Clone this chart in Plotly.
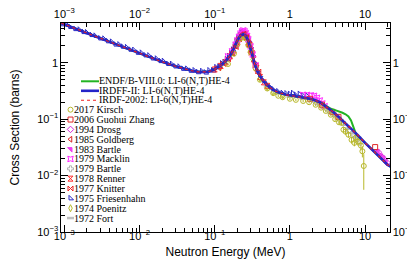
import plotly.graph_objects as go

# ---------------- data (MeV, barns) ----------------
curve_E = [0.00091, 0.001, 0.0015, 0.002, 0.003, 0.005, 0.007, 0.01, 0.015, 0.02, 0.03, 0.04,
           0.05, 0.06, 0.07, 0.08, 0.09, 0.1, 0.12, 0.14, 0.16, 0.18, 0.2, 0.22, 0.24, 0.26,
           0.28, 0.3, 0.32, 0.34, 0.37, 0.4, 0.45, 0.5, 0.55, 0.6, 0.7, 0.8, 0.9, 1.0, 1.3,
           1.6, 2.0, 2.5, 3.0, 3.5, 4.0, 4.5, 5.0, 5.5, 6.0, 6.5, 7.0, 7.5, 8.0, 10, 12, 14, 17, 20, 22]
irdff_sig = [5.05, 4.8, 3.9, 3.37, 2.73, 2.1, 1.76, 1.45, 1.19, 1.04, 0.87, 0.78,
             0.72, 0.69, 0.68, 0.69, 0.72, 0.77, 0.9, 1.07, 1.35, 1.8, 2.5, 3.05, 3.2, 3.0,
             2.4, 1.8, 1.3, 0.95, 0.7, 0.58, 0.46, 0.40, 0.36, 0.33, 0.30, 0.28, 0.27, 0.265, 0.25,
             0.24, 0.225, 0.2, 0.17, 0.145, 0.125, 0.109, 0.095, 0.084, 0.075, 0.068, 0.062, 0.057, 0.052, 0.038, 0.030, 0.024, 0.019, 0.0155, 0.0143]
irdf2002_sig = [5.05, 4.8, 3.9, 3.37, 2.73, 2.1, 1.76, 1.45, 1.19, 1.04, 0.87, 0.78,
                0.72, 0.69, 0.68, 0.69, 0.72, 0.77, 0.9, 1.07, 1.35, 1.8, 2.5, 3.05, 3.2, 3.0,
                2.4, 1.8, 1.3, 0.95, 0.7, 0.58, 0.46, 0.40, 0.36, 0.33, 0.30, 0.28, 0.27, 0.265, 0.25,
                0.24, 0.225, 0.2, 0.17, 0.145, 0.125, 0.109, 0.095, 0.084, 0.075, 0.068, 0.062, 0.057, 0.052, 0.038, 0.030, 0.024, 0.019, 0.0155, 0.0143]
endf_sig = [5.05, 4.8, 3.9, 3.37, 2.73, 2.1, 1.76, 1.45, 1.19, 1.04, 0.87, 0.78,
            0.72, 0.69, 0.68, 0.69, 0.72, 0.77, 0.9, 1.07, 1.35, 1.8, 2.5, 3.05, 3.2, 3.0,
            2.4, 1.8, 1.3, 0.95, 0.7, 0.58, 0.46, 0.40, 0.36, 0.33, 0.30, 0.28, 0.27, 0.265, 0.25,
            0.24, 0.225, 0.2, 0.17, 0.153, 0.145, 0.138, 0.13, 0.122, 0.112, 0.095, 0.07, 0.056, 0.051, 0.038, 0.030, 0.024, 0.019, 0.0155, 0.0143]

kirsch_E = [0.15, 0.18, 0.2, 0.22, 0.24, 0.26, 0.28, 0.3, 0.35, 0.4, 0.5, 0.6, 0.7, 0.8, 1.0, 1.2, 1.5, 1.8,
            2.2, 2.6, 3.0, 3.5, 4.0, 4.5, 4.85, 5.15, 5.5, 6.0, 6.6, 7.2, 7.5, 8.0, 8.8, 9.2, 9.6]
kirsch_sig = [0.95, 1.45, 2.1, 2.7, 2.95, 2.7, 2.05, 1.55, 0.8, 0.5, 0.35, 0.29, 0.26, 0.245, 0.23, 0.22, 0.21, 0.2,
              0.18, 0.16, 0.14, 0.12, 0.1, 0.088, 0.086, 0.065, 0.06, 0.053, 0.043, 0.038, 0.047, 0.04, 0.034, 0.027, 0.0148]
kirsch_err = [0.05, 0.07, 0.1, 0.13, 0.14, 0.13, 0.1, 0.08, 0.04, 0.025, 0.018, 0.015, 0.013, 0.012, 0.012, 0.011, 0.011, 0.01,
              0.01, 0.009, 0.008, 0.007, 0.007, 0.007, 0.008, 0.007, 0.007, 0.006, 0.006, 0.005, 0.006, 0.006, 0.006, 0.006, 0.0092]

zhang_E = [1.85, 2.67, 3.67, 4.42, 13.6]
zhang_sig = [0.23, 0.18, 0.135, 0.11, 0.032]

drosg_E = [15.0, 17.0, 19.5]
drosg_sig = [0.026, 0.021, 0.017]

goldberg_E = [0.17, 0.19, 0.21, 0.23, 0.25, 0.27, 0.29, 0.31]
goldberg_sig = [1.5, 2.0, 2.75, 3.15, 3.2, 2.8, 2.2, 1.6]

bartle83_E = [14.7, 16.2, 17.5, 18.8]
bartle83_sig = [0.027, 0.023, 0.021, 0.018]

macklin_E = [0.15, 0.17, 0.19, 0.2, 0.21, 0.22, 0.23, 0.24, 0.25, 0.26, 0.27, 0.28, 0.3, 0.32, 0.35,
             1.5, 1.7, 1.9, 2.1, 2.3, 2.5, 2.7, 2.9]
macklin_sig = [1.3, 1.6, 2.1, 2.5, 2.9, 3.3, 3.6, 3.75, 3.6, 3.35, 3.0, 2.6, 1.95, 1.4, 0.9,
               0.27, 0.27, 0.265, 0.26, 0.24, 0.215, 0.19, 0.17]

bartle79_E = [2.2, 2.6, 3.0, 3.4, 3.8, 4.4, 5.0, 5.6, 6.2, 7.0, 7.8, 8.6]
bartle79_sig = [0.205, 0.18, 0.16, 0.14, 0.125, 0.105, 0.088, 0.074, 0.063, 0.053, 0.045, 0.039]

renner_E = [0.1, 0.12, 0.14, 0.16, 0.18, 0.2, 0.22, 0.24, 0.26, 0.28, 0.3, 0.33, 0.36, 0.4, 0.45, 0.5]
renner_sig = [0.76, 0.88, 1.02, 1.3, 1.65, 2.35, 3.0, 3.3, 3.0, 2.3, 1.7, 1.15, 0.8, 0.56, 0.45, 0.39]

knitter_E = [0.11, 0.13, 0.15, 0.17, 0.19, 0.21, 0.23, 0.25, 0.27, 0.29, 0.31, 0.35, 0.38]
knitter_sig = [0.8, 0.95, 1.15, 1.45, 1.9, 2.6, 3.15, 3.25, 2.75, 2.1, 1.5, 0.9, 0.7]

fries_E = [0.00095, 0.0011, 0.0012, 0.0014, 0.0016, 0.0018, 0.002, 0.0023, 0.0026, 0.003, 0.0034, 0.0038,
           0.0043, 0.0048, 0.0054, 0.006, 0.0068, 0.0076, 0.0085, 0.0095, 0.0107, 0.012, 0.0135, 0.015,
           0.017, 0.019, 0.021, 0.024, 0.027, 0.03, 0.034, 0.038, 0.043, 0.048, 0.054, 0.06, 0.068, 0.076,
           0.085, 0.095, 0.105, 0.115, 0.125, 0.135, 0.145, 0.155, 0.165, 0.175, 0.185, 0.195, 0.205, 0.215,
           0.225, 0.235, 0.245, 0.255, 0.265, 0.275, 0.285, 0.3, 0.32, 0.34, 0.37, 0.4, 0.45, 0.5, 0.55, 0.6,
           0.7, 0.8, 0.9, 1.0, 1.1, 1.2, 1.35, 1.5, 1.7]
fries_sig = [4.8, 4.7, 4.3, 3.95, 3.85, 3.5, 3.45, 3.1, 3.0, 2.7, 2.66, 2.4,
             2.35, 2.1, 2.1, 1.92, 1.88, 1.7, 1.68, 1.5, 1.5, 1.35, 1.34, 1.19,
             1.18, 1.07, 1.07, 0.95, 0.95, 0.86, 0.85, 0.78, 0.78, 0.72, 0.73, 0.68, 0.71, 0.67,
             0.73, 0.73, 0.83, 0.85, 0.97, 1.03, 1.15, 1.3, 1.48, 1.7, 2.0, 2.4, 2.75, 3.1,
             3.35, 3.5, 3.45, 3.3, 3.1, 2.85, 2.5, 1.95, 1.4, 1.02, 0.74, 0.6, 0.48, 0.41, 0.37, 0.34,
             0.31, 0.29, 0.285, 0.28, 0.29, 0.27, 0.28, 0.265, 0.26]

poenitz_E = [0.12, 0.16, 0.2, 0.24, 0.28, 0.32, 0.4, 0.5, 0.6, 0.8]
poenitz_sig = [0.84, 1.25, 2.3, 2.9, 2.2, 1.15, 0.53, 0.37, 0.3, 0.26]

fort_E = [0.5, 0.7, 1.0, 1.5, 2.0, 2.5, 3.0, 3.5, 4.0, 5.0, 6.0, 7.0, 8.0]
fort_sig = [0.38, 0.285, 0.25, 0.23, 0.21, 0.185, 0.158, 0.13, 0.115, 0.088, 0.068, 0.056, 0.047]

# ---------------- styles ----------------
curves = [
    ("ENDF/B-VIII.0: LI-6(N,T)HE-4", endf_sig, "#22b422", 2.0, "solid"),
    ("IRDFF-II: LI-6(N,T)HE-4", irdff_sig, "#2424c8", 2.6, "solid"),
    ("IRDF-2002: LI-6(N,T)HE-4", irdf2002_sig, "#ee2020", 1.1, "dot"),
]
datasets = [
    ("2017 Kirsch", kirsch_E, kirsch_sig, "circle-open", "#b8b82a", kirsch_err),
    ("2006 Guohui Zhang", zhang_E, zhang_sig, "square-open", "#e02828", None),
    ("1994 Drosg", drosg_E, drosg_sig, "diamond-open", "#d828d8", None),
    ("1985 Goldberg", goldberg_E, goldberg_sig, "triangle-left-open", "#d82020", None),
    ("1983 Bartle", bartle83_E, bartle83_sig, "triangle-ne", "#f040f0", None),
    ("1979 Macklin", macklin_E, macklin_sig, "star-square-open", "#ff28ff", None),
    ("1979 Bartle", bartle79_E, bartle79_sig, "cross-open", "#b4b4b4", None),
    ("1978 Renner", renner_E, renner_sig, "hourglass-open", "#ff2a2a", None),
    ("1977 Knitter", knitter_E, knitter_sig, "bowtie-open", "#ee2222", None),
    ("1975 Friesenhahn", fries_E, fries_sig, "triangle-sw-open", "#2828c8", None),
    ("1974 Poenitz", poenitz_E, poenitz_sig, "diamond-tall-open", "#b8b82a", None),
    ("1972 Fort", fort_E, fort_sig, "line-ew-open", "#c0c0c0", None),
]

W, H = 415, 261
ML, MR, MT, MB = 53, 33, 15, 37
PW, PH = W - ML - MR, H - MT - MB
XR = [-3.044, 1.331]
YR = [-3.0, 0.705]

def px_x(p):
    return (p - ML) / PW

def px_y(p):
    return (H - MB - p) / PH

fig = go.Figure()

draw_order = [11, 10, 9, 8, 7, 6, 5, 4, 3, 2, 1, 0]
for i in draw_order:
    name, E, S, sym, col, err = datasets[i]
    lw = 2.5 if sym == "line-ew-open" else 1
    tr = go.Scatter(x=E, y=S, mode="markers", name=name, showlegend=False,
                    marker=dict(symbol=sym, size=5, color=col, line=dict(color=col, width=lw)))
    if err is not None:
        tr.error_y = dict(type="data", array=err, visible=True, color=col, thickness=1, width=0)
    fig.add_trace(tr)

for name, S, col, lw, dash in curves:
    fig.add_trace(go.Scatter(x=curve_E, y=S, mode="lines", name=name, showlegend=False,
                             line=dict(color=col, width=lw, dash=dash)))

# dummy trace so top/right axes are drawn
fig.add_trace(go.Scatter(x=[1.0], y=[1.0], xaxis="x2", yaxis="y2", mode="markers",
                         marker=dict(opacity=0), showlegend=False, hoverinfo="skip"))

# ---------------- custom compact legend ----------------
LEG_FONT = dict(family="Liberation Serif, Times New Roman, serif", size=10, color="black")
line_row0, line_step = 73.3, 9.5
line_x0, line_x1, line_tx = 73, 91, 89.5
mark_row0, mark_step = 101.7, 9.85
mark_x, mark_tx = 62.5, 64.5

annotations = []
for k, (name, S, col, lw, dash) in enumerate(curves):
    yy = px_y(line_row0 + k * line_step)
    fig.add_trace(go.Scatter(x=[px_x(line_x0), px_x(line_x1)], y=[yy, yy], xaxis="x3", yaxis="y3",
                             mode="lines", line=dict(color=col, width=lw, dash=dash),
                             showlegend=False, hoverinfo="skip"))
    annotations.append(dict(x=px_x(line_tx), y=yy, xref="paper", yref="paper", text=name,
                            showarrow=False, xanchor="left", yanchor="middle", font=LEG_FONT,
                            borderpad=0))
for k, (name, E, S, sym, col, err) in enumerate(datasets):
    yy = px_y(mark_row0 + k * mark_step)
    lw = 2.5 if sym == "line-ew-open" else 1
    fig.add_trace(go.Scatter(x=[px_x(mark_x)], y=[yy], xaxis="x3", yaxis="y3", mode="markers",
                             marker=dict(symbol=sym, size=5, color=col, line=dict(color=col, width=lw)),
                             showlegend=False, hoverinfo="skip"))
    annotations.append(dict(x=px_x(mark_tx), y=yy, xref="paper", yref="paper", text=name,
                            showarrow=False, xanchor="left", yanchor="middle", font=LEG_FONT,
                            borderpad=0))

SANS = "Liberation Sans, Arial, sans-serif"
TICKFONT = dict(family=SANS, size=8.8, color="black")
common = dict(type="log", dtick=1, exponentformat="power", showgrid=False, zeroline=False,
              automargin=False, ticks="inside", ticklen=7, tickwidth=1, tickcolor="black",
              showline=True, linecolor="black", linewidth=1, tickfont=TICKFONT,
              minor=dict(ticks="inside", ticklen=4, tickwidth=1, tickcolor="black", dtick="D1", showgrid=False))

fig.update_layout(
    template="none",
    width=W, height=H, margin=dict(l=ML, r=MR, t=MT, b=MB),
    paper_bgcolor="white", plot_bgcolor="white", showlegend=False,
    xaxis=dict(range=XR, **common, ticklabelstandoff=-6,
               title=dict(text="Neutron Energy (MeV)", standoff=6,
                          font=dict(family=SANS, size=12, color="black"))),
    yaxis=dict(range=YR, **common,
               title=dict(text="Cross Section (barns)", standoff=16,
                          font=dict(family=SANS, size=12, color="black"))),
    xaxis2=dict(range=XR, overlaying="x", side="top", anchor="y", **common, ticklabelstandoff=0),
    yaxis2=dict(range=YR, overlaying="y", side="right", anchor="x", **common),
    xaxis3=dict(range=[0, 1], overlaying="x", anchor="y3", visible=False, automargin=False),
    yaxis3=dict(range=[0, 1], overlaying="y", anchor="x3", visible=False, automargin=False),
    annotations=annotations,
)

fig.write_html("out.html")
